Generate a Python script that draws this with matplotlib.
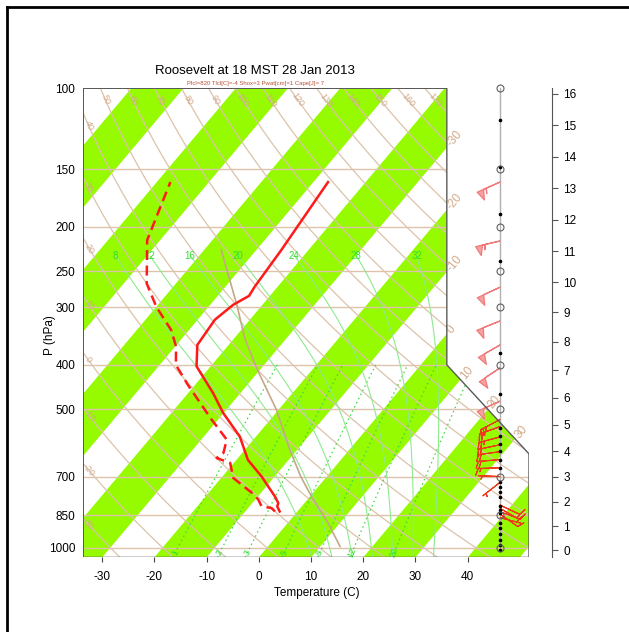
import numpy as np
import matplotlib
matplotlib.use("Agg")
import matplotlib.pyplot as plt
from matplotlib.patches import Polygon
from matplotlib.lines import Line2D

plt.rcParams['font.family'] = ['Liberation Sans', 'DejaVu Sans']

# ---------------------------------------------------------------------------
# sounding data
# ---------------------------------------------------------------------------
temp_p = [834, 813, 800, 774, 700, 644, 573, 509, 461, 403, 362, 319, 296, 283, 270, 225, 160]
temp_t = [-3.4, -4.7, -5.0, -6.7, -12.5, -17.8, -23.1, -30.1, -35.2, -42.7, -46.0, -46.7,
          -45.6, -44.0, -44.4, -45.2, -47.2]

dew_p = [834, 820, 813, 786, 760, 705, 654, 638, 622, 582, 524, 442, 400, 365, 336, 299, 266, 214, 160]
dew_t = [-4.3, -5.5, -7.7, -9.4, -11.7, -17.7, -20.7, -24.1, -23.6, -25.1, -31.5, -41.4,
         -46.9, -49.8, -53.4, -60.0, -65.6, -72.5, -77.4]

parcel_p = [994, 880, 774, 700, 612, 500, 410, 350, 296, 225]
parcel_t = [13.8, 7.5, 0.3, -5.0, -11.4, -20.5, -30.5, -38.0, -44.9, -56.7]

# winds: pressure (hPa), direction (deg), speed (kt)
wind_hi_p = [160, 215, 271, 321, 362, 406, 480]
wind_hi_dir = [246, 257, 245, 248, 240, 236, 246]
wind_hi_spd = [55, 55, 50, 50, 50, 50, 50]

wind_lo_p = [526, 545, 574, 597, 618, 643, 670, 700, 721, 808, 821, 835, 845, 860]
wind_lo_dir = [242, 250, 255, 258, 262, 265, 268, 272, 232, 115, 120, 110, 125, 105]
wind_lo_spd = [25, 25, 25, 20, 20, 20, 15, 5, 5, 10, 15, 10, 10, 5]

wind_obs_p = [117, 148, 188, 238, 376, 463, 549, 571, 595, 617, 644, 671, 721, 738, 758,
              777, 810, 827, 840, 884, 906, 934, 961, 985, 1014]
mand_p = [1000, 850, 700, 500, 400, 300, 250, 200, 150, 100]

# diagram labels
pres_lab = [1000, 850, 700, 500, 400, 300, 250, 200, 150, 100]
temp_lab = [-30, -20, -10, 0, 10, 20, 30, 40]
km_lab = list(range(0, 17))
theta_vals = list(range(-30, 210, 10))
mixrat = [1, 2, 3, 5, 8, 12, 20]
sat_vals = [8, 12, 16, 20, 24, 28, 32]
iso_lab = [-30, -20, -10, 0, 10, 20, 30]

title = "Roosevelt at 18 MST 28 Jan 2013"
subtitle = "Plcl=820 Tlcl[C]=-4 Shox=3 Pwat[cm]=1 Cape[J]= 7"

GREEN_BAND = "#96fa00"
TAN = "#dcc3aa"
TAN_TXT = "#d2aa8a"
GREEN = "#2ee02e"


# ---------------------------------------------------------------------------
# skew-T coordinates (RadioSonde convention)
# ---------------------------------------------------------------------------
def skewty(p):
    return 132.182 - 44.061 * np.log10(np.asarray(p, dtype=float))


def skewtx(t, y):
    return 0.54 * np.asarray(t, dtype=float) + 0.90692 * np.asarray(y, dtype=float)


def tmr(w, p):
    x = np.log10((w * p) / (622.0 + w))
    tk = 10 ** (0.0498646455 * x + 2.4082965) - 7.07475 + 38.9114 * ((10 ** (0.0915 * x) - 1.2035) ** 2)
    return tk - 273.15


def moist_adiabat(tw):
    rd, cp, lv, eps = 287.04, 1005.7, 2.501e6, 0.622

    def lapse(t, p):
        es = 6.112 * np.exp(17.67 * (t - 273.15) / (t - 29.65))
        rs = eps * es / (p - es)
        return (rd * t + lv * rs) / (p * (cp + lv * lv * rs * eps / (rd * t * t)))

    out_p, out_t = [], []
    for grid in (np.arange(1000.0, 1051.0, 1.0), np.arange(1000.0, 219.0, -1.0)):
        t = tw + 273.15
        ts = [t]
        for p0, p1 in zip(grid[:-1], grid[1:]):
            dp = p1 - p0
            k1 = lapse(t, p0)
            k2 = lapse(t + k1 * dp, p1)
            t = t + 0.5 * (k1 + k2) * dp
            ts.append(t)
        out_p.append(grid)
        out_t.append(np.array(ts) - 273.15)
    p = np.concatenate([out_p[0][::-1], out_p[1][1:]])
    t = np.concatenate([out_t[0][::-1], out_t[1][1:]])
    return p, t


def std_pressure(z_km):
    z = z_km * 1000.0
    if z <= 11000:
        return 1013.25 * (1 - 2.25577e-5 * z) ** 5.25588
    return 226.32 * np.exp(-(z - 11000) / 6341.62)


# diagram frame
ybot, ytop = skewty(1050), skewty(100)
xmin, xmax = -19.0, 27.1
kinkx = skewtx(5, skewty(400))
xc = [xmin, xmin, xmax, xmax, kinkx, kinkx, xmin]
yc = [ytop, ybot, ybot, skewty(625), skewty(400), ytop, ytop]

W, H = 629, 632
fig = plt.figure(figsize=(W / 100, H / 100), dpi=100)
ax = fig.add_axes([83.3 / W, (H - 557.4) / H, 445.7 / W, 469.1 / H])
ax.set_xlim(xmin, xmax)
ax.set_ylim(ybot, ytop)
for s in ax.spines.values():
    s.set_visible(False)

outline = Polygon(np.column_stack([xc, yc]), closed=True, fill=False,
                  edgecolor="#5a5a5a", lw=1.0, zorder=6)
ax.add_patch(outline)


def clip(artists):
    for a in artists:
        a.set_clip_path(outline)


# green isotherm bands
for t0 in range(-120, 50, 20):
    band = Polygon([[skewtx(t0, ybot), ybot], [skewtx(t0 + 10, ybot), ybot],
                    [skewtx(t0 + 10, ytop), ytop], [skewtx(t0, ytop), ytop]],
                   closed=True, facecolor=GREEN_BAND, edgecolor="none", zorder=1)
    ax.add_patch(band)
    band.set_clip_path(outline)

# isobars
for p in pres_lab[:-1]:
    clip(ax.plot([xmin, xmax], [skewty(p)] * 2, color=TAN, lw=1.0, zorder=2))

# dry adiabats
pp = np.logspace(np.log10(1050), 2, 200)
for th in theta_vals:
    tt = (th + 273.15) * (pp / 1000.0) ** 0.286 - 273.15
    clip(ax.plot(skewtx(tt, skewty(pp)), skewty(pp), color=TAN, lw=0.9, zorder=2))


def line_angle(x0, y0, x1, y1):
    d = ax.transData.transform([[x0, y0], [x1, y1]])
    return np.degrees(np.arctan2(d[1, 1] - d[0, 1], d[1, 0] - d[0, 0]))


for th in theta_vals:
    tt = (th + 273.15) * (pp / 1000.0) ** 0.286 - 273.15
    xs, ys = skewtx(tt, skewty(pp)), skewty(pp)
    if th <= 40:
        i = np.argmin(np.abs(xs - (xmin + 0.55)))
        if ys[i] < ybot + 1.5:
            continue
    else:
        i = np.argmin(np.abs(ys - (ytop - 1.15)))
        if xs[i] > kinkx - 1.0:
            continue
    ang = line_angle(xs[i - 2], ys[i - 2], xs[i + 2], ys[i + 2])
    if ang > 90:
        ang -= 180
    if ang < -90:
        ang += 180
    ax.text(xs[i], ys[i], str(th), color=TAN_TXT, fontsize=6.5, rotation=ang,
            ha="center", va="center", rotation_mode="anchor", zorder=3)

# mixing ratio lines
pm = np.linspace(1050, 400, 60)
for w in mixrat:
    clip(ax.plot(skewtx(tmr(w, pm), skewty(pm)), skewty(pm), color="#3ad83a",
                 lw=0.9, ls=(0, (1.2, 2.5)), zorder=2))
    x0, y0 = skewtx(tmr(w, 1024.0), skewty(1024.0)), skewty(1024.0)
    ang = line_angle(skewtx(tmr(w, 1000.0), skewty(1000.0)), skewty(1000.0),
                     skewtx(tmr(w, 900.0), skewty(900.0)), skewty(900.0))
    ax.text(x0, y0, str(w), color=GREEN, fontsize=6.5, rotation=ang,
            ha="center", va="center", rotation_mode="anchor", zorder=3)

# saturated adiabats
for tw in sat_vals:
    sp, st = moist_adiabat(tw)
    keep = sp >= 232
    clip(ax.plot(skewtx(st[keep], skewty(sp[keep])), skewty(sp[keep]),
                 color="#8eea8e", lw=0.8, zorder=2))
    j = np.argmin(np.abs(sp - 228))
    ax.text(skewtx(st[j], skewty(sp[j])) + 0.15, skewty(sp[j]) - 0.3, str(tw), color=GREEN,
            fontsize=7, ha="center", va="center", zorder=3)

# isotherm labels at the right boundary
diag_x0, diag_y0 = xmax, skewty(625)
diag_x1, diag_y1 = kinkx, skewty(400)
for t in iso_lab:
    yk = (kinkx - 0.54 * t) / 0.90692
    if yk >= skewty(400):
        xi, yi = kinkx, yk
    else:
        # intersect isotherm with the slanted edge
        a = (diag_x1 - diag_x0) / (diag_y1 - diag_y0)
        yi = (diag_x0 - a * diag_y0 - 0.54 * t) / (0.90692 - a)
        xi = skewtx(t, yi)
    ang = line_angle(skewtx(t, 0), 0, skewtx(t, 10), 10)
    ax.annotate(str(t), (xi, yi), xytext=(1.5, 1.5), textcoords="offset points",
                color=TAN_TXT, fontsize=8.5, rotation=ang, rotation_mode="anchor",
                ha="left", va="center", annotation_clip=False, zorder=3)

# lifted parcel curve
ax.plot(skewtx(parcel_t, skewty(parcel_p)), skewty(parcel_p), color="#c4a888",
        lw=1.2, zorder=3)

# temperature and dew point
ax.plot(skewtx(temp_t, skewty(temp_p)), skewty(temp_p), color="#ff1a1a", lw=1.8, zorder=4)
ax.plot(skewtx(dew_t, skewty(dew_p)), skewty(dew_p), color="#ff1a1a", lw=1.8,
        dashes=(4, 2.2), zorder=4)

# wind staff
xs_staff = xmin + (500 - 83.3) / 9.668
ax.plot([xs_staff, xs_staff], [skewty(100), skewty(1014)], color="#b0b0b0", lw=1.0,
        zorder=3, clip_on=False)
ax.plot([xs_staff] * len(wind_obs_p), skewty(wind_obs_p), "o", color="black", ms=1.6,
        zorder=5, clip_on=False)
ax.plot([xs_staff] * len(mand_p), skewty(mand_p), "o", mfc="none", mec="#606060",
        ms=5.0, mew=0.8, zorder=5, clip_on=False)


def uv(dirs, spds):
    d = np.radians(dirs)
    s = np.asarray(spds, dtype=float)
    return -s * np.sin(d), -s * np.cos(d)


u, v = uv(wind_hi_dir, wind_hi_spd)
ax.barbs([xs_staff] * len(wind_hi_p), skewty(wind_hi_p), u, v, length=6.0,
         barbcolor="#f27a7a", flagcolor="#f6a0a0", linewidth=0.9, zorder=4,
         flip_barb=True, sizes=dict(spacing=0.12, height=0.4, width=0.28), clip_on=False)
u, v = uv(wind_lo_dir, wind_lo_spd)
ax.barbs([xs_staff] * len(wind_lo_p), skewty(wind_lo_p), u, v, length=5.6,
         barbcolor="#ee3a1a", flagcolor="#ee3a1a", linewidth=0.8, zorder=4,
         flip_barb=True, sizes=dict(spacing=0.13, height=0.3, emptybarb=0.0), clip_on=False)

# axes labels
ax.set_yticks(skewty(pres_lab))
ax.set_yticklabels([str(p) for p in pres_lab], fontsize=8.5)
ax.tick_params(axis="y", length=0, pad=5.8)
ax.set_xticks(skewtx(temp_lab, ybot))
ax.set_xticklabels([str(t) for t in temp_lab], fontsize=8.5)
ax.tick_params(axis="x", length=3.8, width=0.8, color="#444444", pad=6)

fig.text(316.7 / W, 1 - 593 / H, "Temperature (C)", fontsize=8.5, ha="center", va="center")
fig.text(50 / W, 1 - 335 / H, "P (hPa)", fontsize=8.5, ha="center", va="center", rotation=90)
fig.text(255 / W, 1 - 70.7 / H, title, fontsize=9.5, ha="center", va="center")
fig.text(255.4 / W, 1 - 83.3 / H, subtitle, fontsize=4.3, ha="center", va="center",
         color="#b8503a")

# height axis (km)
axk = fig.add_axes([552 / W - 0.0001, (H - 557.4) / H, 0.0001, 469.1 / H])
axk.set_ylim(ybot, ytop)
axk.set_xticks([])
for side in ("left", "top", "bottom"):
    axk.spines[side].set_visible(False)
axk.spines["right"].set_color("#555555")
axk.yaxis.tick_right()
axk.set_yticks(skewty([std_pressure(k) for k in km_lab]))
axk.set_yticklabels([str(k) for k in km_lab], fontsize=8.5)
axk.tick_params(axis="y", length=4.3, width=0.8, color="#555555", pad=4)
axk.patch.set_visible(False)

# outer frame
fig.add_artist(Line2D([7 / W, 1.0], [1 - 7 / H, 1 - 7 / H], transform=fig.transFigure,
                      color="black", lw=2.0))
fig.add_artist(Line2D([7 / W, 7 / W], [1 - 7 / H, 0.0], transform=fig.transFigure,
                      color="black", lw=2.0))

fig.savefig("out.png", dpi=100)
